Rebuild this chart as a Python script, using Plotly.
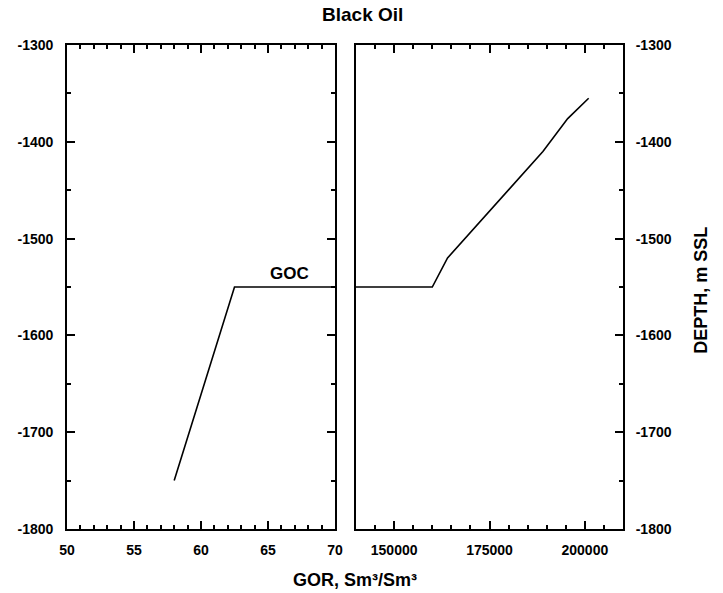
import plotly.graph_objects as go

# Data
left_gor = [58.0, 62.5, 70.0]
left_depth = [-1750, -1550, -1550]
right_gor = [140000, 160000, 164000, 172000, 180000, 189000, 195500, 201000]
right_depth = [-1550, -1550, -1520, -1485, -1450, -1410, -1376, -1355]

left_xticks = [50, 55, 60, 65, 70]
right_xticks = [150000, 175000, 200000]
depth_ticks = [-1800, -1700, -1600, -1500, -1400, -1300]

FONT = "Liberation Sans, Arial, Helvetica, sans-serif"
tickfont = dict(family=FONT, size=14, color="black", weight="bold")

fig = go.Figure()
fig.add_trace(go.Scatter(x=left_gor, y=left_depth, mode="lines",
                         line=dict(color="black", width=1.6),
                         xaxis="x", yaxis="y", showlegend=False))
fig.add_trace(go.Scatter(x=right_gor, y=right_depth, mode="lines",
                         line=dict(color="black", width=1.6),
                         xaxis="x2", yaxis="y2", showlegend=False))

axis_common = dict(showgrid=False, zeroline=False, showline=True,
                   linecolor="black", linewidth=1.8, ticks="inside",
                   ticklen=8, tickwidth=1.5, tickcolor="black",
                   tickfont=tickfont)

depth_text = [str(v) for v in depth_ticks]

fig.update_layout(
    width=723, height=593,
    margin=dict(l=67, r=100, t=45, b=64),
    paper_bgcolor="white", plot_bgcolor="white",
    xaxis=dict(domain=[0, 0.482], range=[50, 70], tickmode="array",
               tickvals=left_xticks, ticktext=[str(v) for v in left_xticks],
               mirror="ticks", anchor="y", ticklabelstandoff=7,
               minor=dict(dtick=1, ticklen=4, tickcolor="black", ticks="inside"),
               **axis_common),
    xaxis2=dict(domain=[0.5198, 1], range=[140000, 210000], tickmode="array",
                tickvals=right_xticks, ticktext=[str(v) for v in right_xticks],
                mirror="ticks", anchor="y2", ticklabelstandoff=7,
                minor=dict(dtick=5000, tick0=0, ticklen=4, tickcolor="black", ticks="inside"),
                **axis_common),
    yaxis=dict(range=[-1800, -1300], tickmode="array", tickvals=depth_ticks,
               ticktext=depth_text, anchor="x", mirror="ticks",
               ticklabelstandoff=9,
               minor=dict(dtick=50, ticklen=4, tickcolor="black", ticks="inside"),
               **axis_common),
    yaxis2=dict(range=[-1800, -1300], tickmode="array", tickvals=depth_ticks,
                ticktext=depth_text, anchor="x2", side="right",
                mirror=True, ticklabelstandoff=8,
                minor=dict(dtick=50, ticklen=4, tickcolor="black", ticks="inside"),
                **axis_common),
    annotations=[
        dict(text="Black Oil", xref="paper", yref="paper", x=0.5306, y=1.064,
             showarrow=False, xanchor="center", yanchor="middle",
             font=dict(family=FONT, size=19, color="black", weight="bold")),
        dict(text="GOR, Sm³/Sm³", xref="paper", yref="paper", x=0.518, y=-0.105,
             showarrow=False, xanchor="center", yanchor="middle",
             font=dict(family=FONT, size=18, color="black", weight="bold")),
        dict(text="DEPTH, m SSL", xref="paper", yref="paper", x=1.140, y=0.494,
             showarrow=False, xanchor="center", yanchor="middle", textangle=-90,
             font=dict(family=FONT, size=18, color="black", weight="bold")),
        dict(text="GOC", xref="x", yref="y", x=66.6, y=-1536,
             showarrow=False, xanchor="center", yanchor="middle",
             font=dict(family=FONT, size=17, color="black", weight="bold")),
    ],
)

fig.write_html("out.html", config={"displayModeBar": False},
               post_script="document.body.style.margin='0';document.body.style.padding='0';")
